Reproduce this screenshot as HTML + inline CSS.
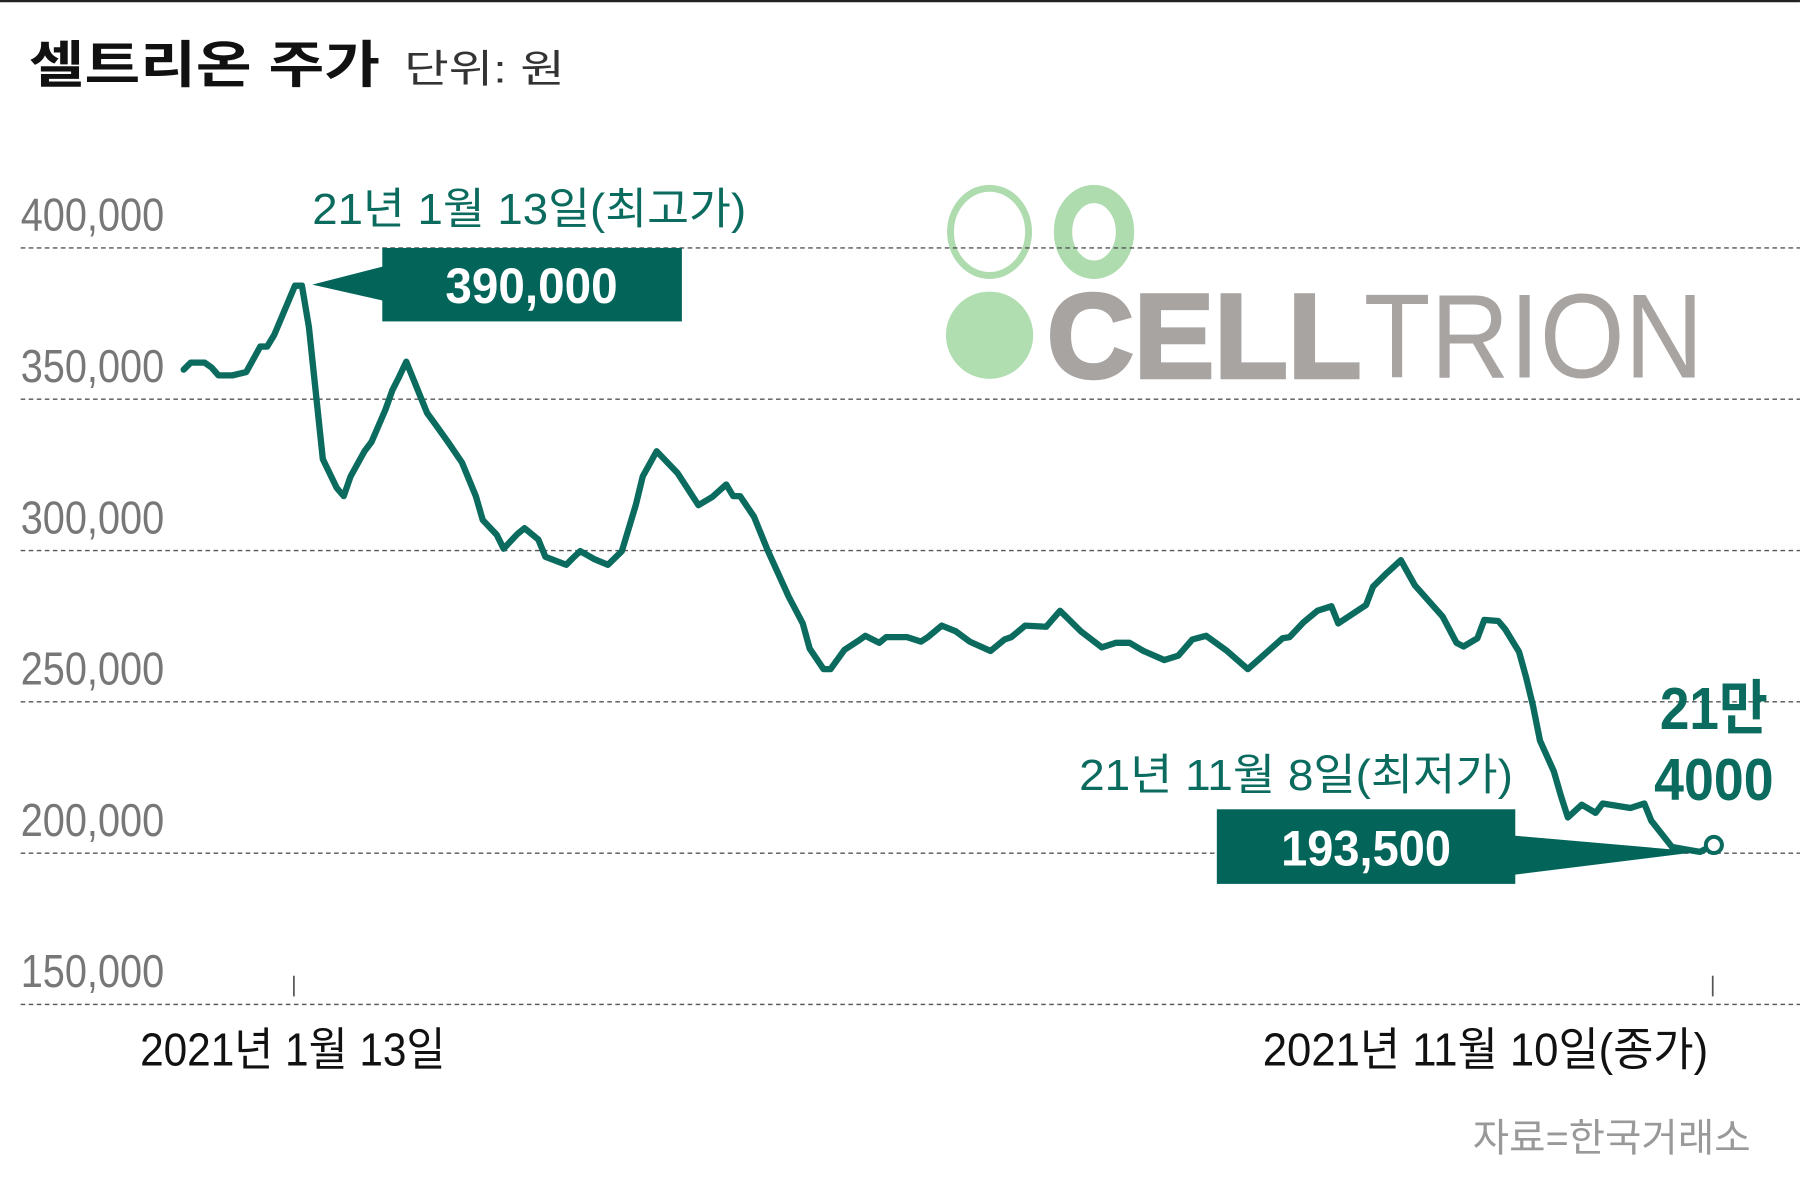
<!DOCTYPE html>
<html><head><meta charset="utf-8"><style>
html,body{margin:0;padding:0;background:#fff;width:1800px;height:1199px;overflow:hidden}
svg{display:block}
text{font-family:"Liberation Sans","Noto Sans CJK KR",sans-serif}
</style></head><body>
<svg id="chart" width="1800" height="1199" viewBox="0 0 1568 1044.5" xmlns="http://www.w3.org/2000/svg">
<rect x="0" y="0" width="1568" height="1045" fill="#fff"/>
<line x1="0" y1="1" x2="1568" y2="1" stroke="#222" stroke-width="2"/>
<text x="25" y="72" font-size="44" font-weight="bold" fill="#111" textLength="306" lengthAdjust="spacingAndGlyphs">셀트리온 주가</text>
<text x="352" y="72" font-size="34" fill="#333" textLength="140" lengthAdjust="spacingAndGlyphs">단위: 원</text>

<g>
<ellipse cx="862" cy="202" rx="34" ry="38" fill="none" stroke="#aedcaf" stroke-width="6"/>
<ellipse cx="953" cy="202" rx="27" ry="33" fill="none" stroke="#aedcaf" stroke-width="16"/>
<ellipse cx="862" cy="292" rx="38" ry="38" fill="#b0deb0"/>
<text x="912" y="329" font-size="104" font-weight="bold" fill="#a8a4a2" stroke="#a8a4a2" stroke-width="3" textLength="274" lengthAdjust="spacingAndGlyphs">CELL</text>
<text x="1188" y="329" font-size="104" fill="#a8a4a2" textLength="296" lengthAdjust="spacingAndGlyphs">TRION</text>
</g>

<g id="grid"></g>
<g id="ylabels"></g>
<path id="series" fill="none" stroke="#0a6b5e" stroke-width="5.5" stroke-linejoin="round" stroke-linecap="round"/>

<g>
<text x="272" y="195" font-size="38" fill="#0a6b5e" textLength="378" lengthAdjust="spacingAndGlyphs">21년 1월 13일(최고가)</text>
<polygon points="272,248 334,232 334,262" fill="#03645a"/>
<rect x="333" y="216" width="261" height="64" fill="#03645a"/>
<text x="463" y="264" font-size="44" font-weight="bold" fill="#fff" text-anchor="middle" textLength="150" lengthAdjust="spacingAndGlyphs">390,000</text>
</g>
<g>
<text x="940" y="688" font-size="38" fill="#0a6b5e" textLength="378" lengthAdjust="spacingAndGlyphs">21년 11월 8일(최저가)</text>
<polygon points="1319,728 1480,742 1319,762" fill="#03645a"/>
<rect x="1060" y="705" width="260" height="65" fill="#03645a"/>
<text x="1190" y="754" font-size="44" font-weight="bold" fill="#fff" text-anchor="middle" textLength="148" lengthAdjust="spacingAndGlyphs">193,500</text>
</g>
<g>
<text x="1493" y="635" font-size="52" font-weight="bold" fill="#0a6b5e" text-anchor="middle" textLength="94" lengthAdjust="spacingAndGlyphs">21만</text>
<text x="1493" y="697" font-size="52" font-weight="bold" fill="#0a6b5e" text-anchor="middle" textLength="104" lengthAdjust="spacingAndGlyphs">4000</text>
</g>
<circle id="endpt" r="7" fill="#fff" stroke="#0a6b5e" stroke-width="3.5"/>

<line x1="256" y1="850" x2="256" y2="868" stroke="#555" stroke-width="1.5"/>
<line x1="1492" y1="850" x2="1492" y2="868" stroke="#555" stroke-width="1.5"/>
<text x="255" y="928" font-size="40" fill="#111" text-anchor="middle" textLength="266" lengthAdjust="spacingAndGlyphs">2021년 1월 13일</text>
<text x="1100" y="928" font-size="40" fill="#111" textLength="388" lengthAdjust="spacingAndGlyphs">2021년 11월 10일(종가)</text>
<text x="1283" y="1003" font-size="34" fill="#999" textLength="242" lengthAdjust="spacingAndGlyphs">자료=한국거래소</text>
</svg>
<script>
const days = [0,1,3,4,5,7,9,11,12,13,16,17,18,20,22,23,24,26,27,29,30,31,32,34,35,36,38,40,42,43,45,46,48,49,50,51,52,55,56,57,59,61,63,65,66,68,71,74,76,78,79,80,82,84,87,89,90,92,93,95,97,98,100,101,104,106,107,109,111,113,116,118,119,121,124,126,129,132,134,136,138,141,143,145,147,150,153,155,158,159,161,163,165,166,170,171,173,175,177,181,183,184,186,187,189,190,192,193,194,195,197,198,199,201,203,204,208,210,211,214,216,218,220];
const prices = [359800,362100,362100,360500,357900,357900,359000,367400,367400,371200,387500,387500,373800,330200,320700,318000,324500,332800,335900,346500,353000,357500,362400,351100,345400,342300,335900,329100,318000,310100,305200,300600,305500,307400,305500,303600,297900,295300,297600,299800,297200,295300,299800,315000,324500,332800,325600,315000,317700,321800,318000,318000,311200,299800,284700,275900,267600,260800,260800,267200,270200,271800,269500,271400,271400,269900,271400,275200,273300,269900,266800,270600,271400,275200,274800,280100,273300,268000,269500,269500,266800,263800,265300,270600,271800,266800,260800,264900,271000,271400,276300,280100,281600,275900,282000,288100,292600,296800,288500,278200,269500,268300,271000,277100,276700,274000,266500,258100,248600,237200,227000,219000,211800,216000,213300,216400,214900,216400,210700,202000,201200,200400,202700];
const yTicks = [400000,350000,300000,250000,200000,150000];
const yTickLabels = ["400,000","350,000","300,000","250,000","200,000","150,000"];

const NS = "http://www.w3.org/2000/svg";
function xScale(d){ return 160 + d * (1493 - 160) / 220; }
function yScale(v){ return 216 + (400000 - v) * 131.8 / 50000; }

const grid = document.getElementById('grid');
const yl = document.getElementById('ylabels');
yTicks.forEach((t, i) => {
  const ln = document.createElementNS(NS, 'line');
  
  
  ln.setAttribute('x1', 18); ln.setAttribute('x2', 1568);
  ln.setAttribute('y1', yScale(t)); ln.setAttribute('y2', yScale(t));
  ln.setAttribute('stroke', '#555'); ln.setAttribute('stroke-width', '1.2');
  ln.setAttribute('stroke-dasharray', '4,3');
  grid.appendChild(ln);
  const tx = document.createElementNS(NS, 'text');
  
  
  tx.setAttribute('x', 18); tx.setAttribute('y', yScale(t) - 15);
  tx.setAttribute('font-size', '40'); tx.setAttribute('fill', '#777');
  tx.setAttribute('textLength', '125'); tx.setAttribute('lengthAdjust', 'spacingAndGlyphs');
  tx.textContent = yTickLabels[i];
  yl.appendChild(tx);
});

let d = '';
days.forEach((dy, i) => { d += (i ? 'L' : 'M') + xScale(dy).toFixed(1) + ',' + yScale(prices[i]).toFixed(1); });
document.getElementById('series').setAttribute('d', d);
const ep = document.getElementById('endpt');
ep.setAttribute('cx', xScale(days[days.length - 1]));
ep.setAttribute('cy', yScale(prices[prices.length - 1]));
</script>
</body></html>
